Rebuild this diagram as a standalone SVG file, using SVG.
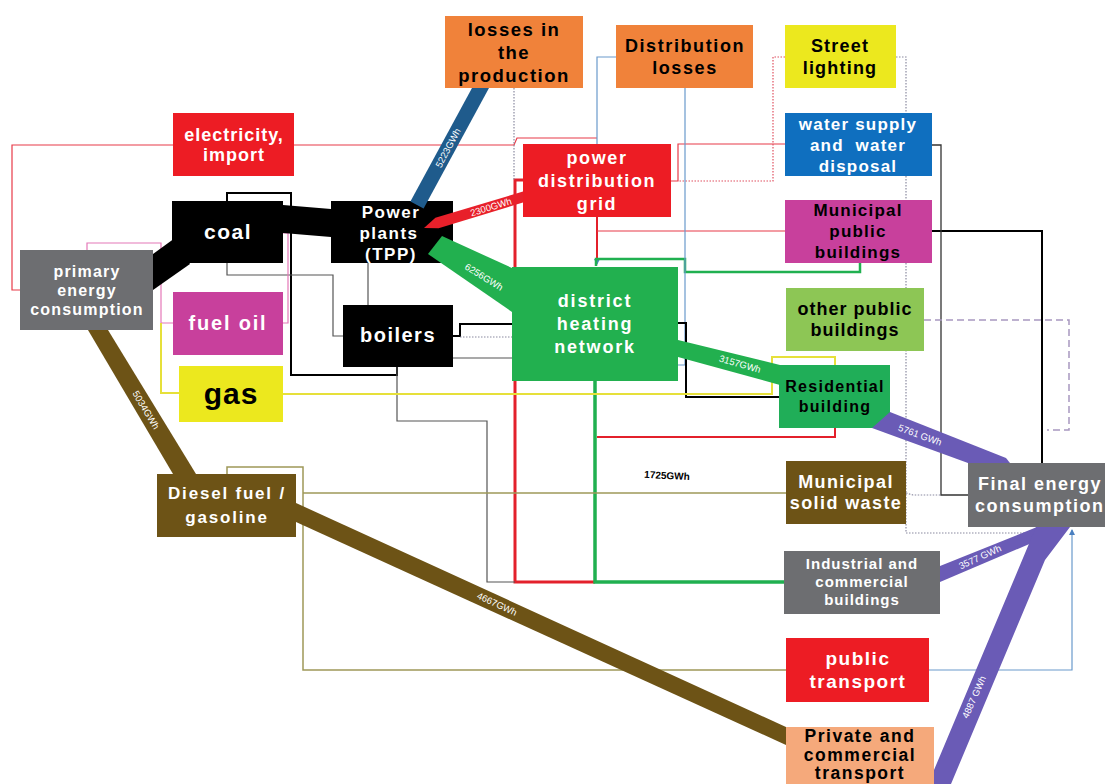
<svg xmlns="http://www.w3.org/2000/svg" width="1105" height="784" viewBox="0 0 1105 784">
<style>
.ln{fill:none}
.red1{stroke:#E83A48;stroke-width:1.2}
.red3{stroke:#E3202B;stroke-width:3}
.red2{stroke:#E3202B;stroke-width:2}
.grn{stroke:#20B050;stroke-width:3.5}
.grn2{stroke:#20B050;stroke-width:2.5}
.blu{stroke:#6A9ACC;stroke-width:1.2}
.blk{stroke:#000;stroke-width:2}
.gry{stroke:#555;stroke-width:1.2}
.gry2{stroke:#333;stroke-width:1.3}
.pnk{stroke:#E478B8;stroke-width:1.2}
.yel{stroke:#E6E03A;stroke-width:2}
.olv{stroke:#9E9858;stroke-width:1.5}
.dot{stroke:#8A8AA0;stroke-width:1.2;stroke-dasharray:1.5 1.5}
.rdot{stroke:#E05060;stroke-width:1.2;stroke-dasharray:1.5 1.5}
.dash{stroke:#A898C0;stroke-width:1.5;stroke-dasharray:7 4}
.t{font-family:"Liberation Sans",Arial,Helvetica,sans-serif;font-weight:bold;text-anchor:middle}
.w{fill:#fff}
.k{fill:#000}
.lbl{font-family:"Liberation Sans",Arial,Helvetica,sans-serif;font-size:9.5px;fill:#fff;text-anchor:middle}
.red{fill:#ED1C24}
.org{fill:#F0823A}
.yelf{fill:#ECE81E}
.gryf{fill:#6D6E71}
.mag{fill:#C8409C}
.grnf{fill:#22B04F}
.brn{fill:#6D5316}
.pur{fill:#6A5BB6}
</style>
<defs>
<marker id="ab" markerWidth="6" markerHeight="6" refX="5" refY="3" orient="auto" markerUnits="userSpaceOnUse"><path d="M0,0 L6,3 L0,6 z" fill="#4A80C0"/></marker>
</defs>

<g id="connectors">
<path class="ln red1" d="M20,290 H12 V145 H173"/>
<path class="ln red1" d="M294,145 H514 L517,138 H597"/>
<path class="ln blu" d="M616,57 H597 V264" marker-end="url(#ab)"/>
<path class="ln red2" d="M597,217 V258"/>
<path class="ln red1" d="M597,231 H785"/>
<path class="ln red1" d="M671,181 H678 V144 H785"/>
<path class="ln rdot" d="M785,57 H773 V181 H678"/>
<path class="ln dot" d="M896,57 H906 V533 H1036"/>
<path class="ln dot" d="M906,493 L913,495 H942"/>
<path class="ln red3" d="M523,180 H515 V582 H595"/>
<path class="ln grn" d="M595,381 V582 H784"/>
<path class="ln grn2" d="M596,266 V259 H685 V272 H860 V263"/>
<path class="ln red2" d="M597,437 H835 V428"/>
<path class="ln blu" d="M685,88 V365 H622"/>
<circle cx="622" cy="365" r="2.5" fill="#4A80C0"/>
<path class="ln blu" d="M929,670 H1072 V530" marker-end="url(#ab)"/>
<path class="ln blk" d="M227,201 V193 H291 V375 H397 V367"/>
<path class="ln gry" d="M227,263 V275 H333 V336 H343"/>
<path class="ln gry" d="M368,263 V305"/>
<path class="ln blk" d="M453,336 H460 V324 H512"/>
<path class="ln dot" d="M460,337 H512"/>
<path class="ln gry" d="M453,358 H512"/>
<path class="ln gry" d="M397,367 V421 H487 V582 H515"/>
<path class="ln blk" d="M678,323 H686 V397 H779"/>
<path class="ln blk" d="M932,231 H1042 V463"/>
<path class="ln gry2" d="M932,145 H941 V495 H968"/>
<path class="ln dash" d="M924,320 H1069 V430 H1047"/>
<path class="ln pnk" d="M87,250 V243 H161 V323 H173"/>
<path class="ln pnk" d="M283,323 H288 V233 H283"/>
<path class="ln yel" d="M161,323 V393 H179"/>
<path class="ln yel" d="M283,394 H772 V357 H835 V365"/>
<path class="ln olv" d="M227,474 V467 H303 V670 H786"/>
<path class="ln olv" d="M303,493 H786"/>
<path class="ln dot" d="M514,88 V180"/>
<text class="t k" x="667" y="479" font-size="10" transform="rotate(3 667 476)">1725GWh</text>
</g>

<g id="nodes">
<g id="electricity-import"><rect class="red" x="173" y="113" width="121" height="63"/>
<text class="t w" font-size="18" letter-spacing="1"><tspan x="234" y="141">electricity,</tspan><tspan x="234" y="161">import</tspan></text></g>

<g id="coal"><rect fill="#000" x="172" y="201" width="111" height="62"/>
<text class="t w" font-size="21" letter-spacing="1.5" x="228" y="239">coal</text></g>

<g id="primary-energy-consumption"><rect class="gryf" x="20" y="250" width="133" height="80"/>
<text class="t w" font-size="16" letter-spacing="1.2"><tspan x="87" y="277">primary</tspan><tspan x="87" y="296">energy</tspan><tspan x="87" y="315">consumption</tspan></text></g>

<g id="fuel-oil"><rect class="mag" x="173" y="292" width="110" height="63"/>
<text class="t w" font-size="20" letter-spacing="1.8" x="228" y="330">fuel oil</text></g>

<g id="gas"><rect class="yelf" x="179" y="366" width="104" height="56"/>
<text class="t k" font-size="30" letter-spacing="1" x="231" y="404">gas</text></g>

<g id="power-plants"><rect fill="#000" x="331" y="201" width="122" height="62"/>
<text class="t w" font-size="17" letter-spacing="1.5"><tspan x="391" y="218">Power</tspan><tspan x="389" y="239">plants</tspan><tspan x="391" y="260">(TPP)</tspan></text></g>

<g id="boilers"><rect fill="#000" x="343" y="305" width="110" height="62"/>
<text class="t w" font-size="20" letter-spacing="1.5" x="398" y="342">boilers</text></g>

<g id="losses-production"><rect class="org" x="445" y="16" width="138" height="72"/>
<text class="t k" font-size="18.5" letter-spacing="1.5"><tspan x="514" y="36">losses in</tspan><tspan x="514" y="59">the</tspan><tspan x="514" y="82">production</tspan></text></g>

<g id="distribution-losses"><rect class="org" x="616" y="25" width="137" height="63"/>
<text class="t k" font-size="18" letter-spacing="1.6"><tspan x="685" y="52">Distribution</tspan><tspan x="685" y="74">losses</tspan></text></g>

<g id="street-lighting"><rect class="yelf" x="785" y="25" width="111" height="63"/>
<text class="t k" font-size="18" letter-spacing="1.2"><tspan x="840" y="52">Street</tspan><tspan x="840" y="74">lighting</tspan></text></g>

<g id="water-supply"><rect fill="#0F6FBF" x="785" y="113" width="147" height="63"/>
<text class="t w" font-size="17" letter-spacing="1.2"><tspan x="858" y="130">water supply</tspan><tspan x="858" y="151" xml:space="preserve">and  water</tspan><tspan x="858" y="172">disposal</tspan></text></g>

<g id="municipal-public-buildings"><rect class="mag" x="785" y="200" width="147" height="63"/>
<text class="t k" font-size="17" letter-spacing="1.2"><tspan x="858" y="216">Municipal</tspan><tspan x="858" y="237">public</tspan><tspan x="858" y="258">buildings</tspan></text></g>

<g id="power-distribution-grid"><rect class="red" x="523" y="144" width="148" height="73"/>
<text class="t w" font-size="18" letter-spacing="1.6"><tspan x="597" y="164">power</tspan><tspan x="597" y="187">distribution</tspan><tspan x="597" y="210">grid</tspan></text></g>

<g id="district-heating-network"><rect class="grnf" x="512" y="267" width="166" height="114"/>
<text class="t w" font-size="18" letter-spacing="1.8"><tspan x="595" y="307">district</tspan><tspan x="595" y="330">heating</tspan><tspan x="595" y="353">network</tspan></text></g>

<g id="other-public-buildings"><rect fill="#8DC655" x="786" y="288" width="138" height="63"/>
<text class="t k" font-size="18" letter-spacing="1"><tspan x="855" y="315">other public</tspan><tspan x="855" y="336">buildings</tspan></text></g>

<g id="residential-building"><rect fill="#20AE58" x="779" y="365" width="111" height="63"/>
<text class="t k" font-size="16" letter-spacing="1.3"><tspan x="835" y="392">Residential</tspan><tspan x="835" y="412">building</tspan></text></g>

<g id="municipal-solid-waste"><rect class="brn" x="786" y="461" width="120" height="63"/>
<text class="t w" font-size="18" letter-spacing="1.4"><tspan x="846" y="488">Municipal</tspan><tspan x="846" y="509">solid waste</tspan></text></g>

<g id="final-energy-consumption"><rect class="gryf" x="968" y="463" width="150" height="64"/>
<text class="t w" font-size="18" letter-spacing="1.5" style="text-anchor:start"><tspan x="978" y="490">Final energy</tspan><tspan x="975" y="512">consumption</tspan></text></g>

<g id="diesel-gasoline"><rect class="brn" x="157" y="474" width="139" height="63"/>
<text class="t w" font-size="17" letter-spacing="1.8"><tspan x="227" y="499">Diesel fuel /</tspan><tspan x="227" y="523">gasoline</tspan></text></g>

<g id="industrial-commercial-buildings"><rect class="gryf" x="784" y="551" width="156" height="63"/>
<text class="t w" font-size="15" letter-spacing="1"><tspan x="862" y="569">Industrial and</tspan><tspan x="862" y="587">commercial</tspan><tspan x="862" y="605">buildings</tspan></text></g>

<g id="public-transport"><rect class="red" x="786" y="638" width="143" height="64"/>
<text class="t w" font-size="19" letter-spacing="1.5"><tspan x="858" y="665">public</tspan><tspan x="858" y="688">transport</tspan></text></g>

<g id="private-commercial-transport"><rect fill="#F5A97B" x="786" y="727" width="148" height="70"/>
<text class="t k" font-size="17.5" letter-spacing="1.5"><tspan x="860" y="742">Private and</tspan><tspan x="860" y="761">commercial</tspan><tspan x="860" y="779">transport</tspan></text></g>
</g>

<g id="flows">
<polygon fill="#000" points="153,254 175,238 190,264 153,290"/>
<polygon fill="#000" points="283,205 331,209 331,237 283,233"/>
<polygon fill="#1F5B8C" points="472,88 489,88 423.6,208.6 410.4,201.4"/>
<text class="lbl" x="448" y="148" dy="0.35em" transform="rotate(-62 448 148)">5223GWh</text>
<polygon fill="#E8202A" points="523,191.5 523,202.5 438.6,228.3 424,228 435.4,217.7"/>
<text class="lbl" x="491" y="207" dy="0.35em" transform="rotate(-17 491 207)">2300GWh</text>
<polygon class="grnf" points="442,236 512,268 512,312 428,254"/>
<text class="lbl" x="484" y="277" dy="0.35em" transform="rotate(32 484 277)">6256GWh</text>
<polygon class="grnf" points="678,340 780,365 780,385 678,357"/>
<text class="lbl" x="740" y="364" dy="0.35em" transform="rotate(16 740 364)">3157GWh</text>
<polygon class="pur" points="872,428 890,412 1006,458 1010,463 968,463"/>
<text class="lbl" x="920" y="435" dy="0.35em" transform="rotate(20 920 435)">5761 GWh</text>
<polygon class="pur" points="940,566 1037,527 1052,527 1048,536 940,582"/>
<text class="lbl" x="980" y="557" dy="0.35em" transform="rotate(-25 980 557)">3577 GWh</text>
<polygon class="pur" points="934,784 934,770 1036,527 1070,527 1045,560 951,784"/>
<text class="lbl" x="974" y="697" dy="0.35em" transform="rotate(-66 974 697)">4887 GWh</text>
<polygon class="brn" points="88,330 108,330 196,474 173,474"/>
<text class="lbl" x="146" y="410" dy="0.35em" transform="rotate(59 146 410)">5034GWh</text>
<polygon class="brn" points="296,503 786,727 786,745 296,522"/>
<text class="lbl" x="497" y="604" dy="0.35em" transform="rotate(24.6 497 604)">4667GWh</text>
</g>
</svg>
